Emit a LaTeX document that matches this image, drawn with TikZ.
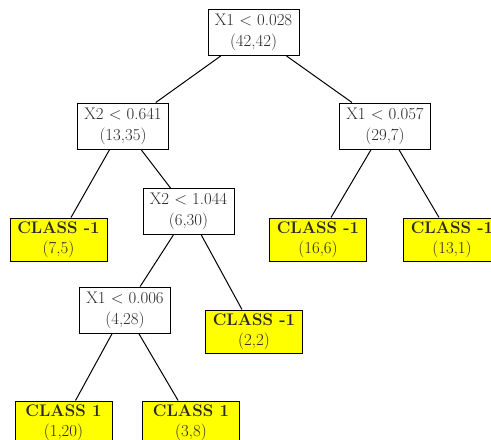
\documentclass[tikz,border=0pt]{standalone}
\usepackage{fontspec}
\begin{document}
\begin{tikzpicture}[x=1pt,y=-1pt,
  every node/.style={font=\fontsize{16.8}{21}\selectfont, text=txtgray, align=center},
  decbox/.style={draw=black, line width=1pt, fill=white, minimum width=91pt, minimum height=46pt, inner sep=2pt},
  leafbox/.style={draw=black, line width=1pt, fill=leafyellow, minimum width=97pt, minimum height=43pt, inner sep=2pt, font=\fontsize{16.8}{20}\selectfont},
  edge/.style={draw=black, line width=1pt}]
\definecolor{txtgray}{HTML}{2A2A2A}
\definecolor{leafyellow}{HTML}{FFFF00}
\useasboundingbox (0,0) rectangle (491,440);
\node[decbox] (r) at (253.5,32.5) {X1 < 0.028\\(42,42)};
\node[decbox] (a) at (123,126) {X2 < 0.641\\(13,35)};
\node[decbox] (b) at (385,126) {X1 < 0.057\\(29,7)};
\node[leafbox] (a1) at (58.5,239.5) {\textbf{CLASS -1}\\(7,5)};
\node[decbox] (a2) at (188.5,211.5) {X2 < 1.044\\(6,30)};
\node[leafbox] (b1) at (318,239.5) {\textbf{CLASS -1}\\(16,6)};
\node[leafbox] (b2) at (452,239.5) {\textbf{CLASS -1}\\(13,1)};
\node[decbox] (c) at (125,310) {X1 < 0.006\\(4,28)};
\node[leafbox] (c2) at (254,331.5) {\textbf{CLASS -1}\\(2,2)};
\node[leafbox] (c1) at (63.5,422.5) {\textbf{CLASS 1}\\(1,20)};
\node[leafbox] (c3) at (191,422.5) {\textbf{CLASS 1}\\(3,8)};
\draw[edge] (r) -- (a);
\draw[edge] (r) -- (b);
\draw[edge] (a) -- (a1);
\draw[edge] (a) -- (a2);
\draw[edge] (b) -- (b1);
\draw[edge] (b) -- (b2);
\draw[edge] (a2) -- (c);
\draw[edge] (a2) -- (c2);
\draw[edge] (c) -- (c1);
\draw[edge] (c) -- (c3);
\end{tikzpicture}
\end{document}
